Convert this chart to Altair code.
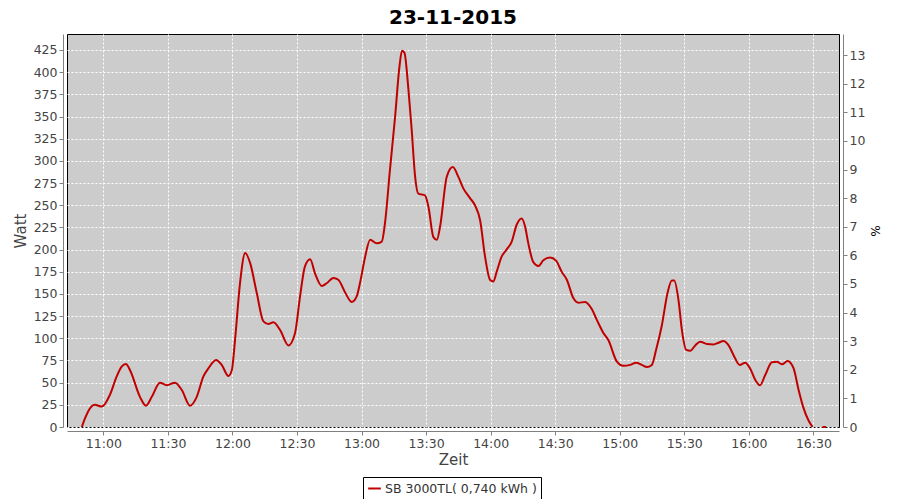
import altair as alt
import pandas as pd

title_text = "23-11-2015"
series_name = "SB 3000TL( 0,740 kWh )"
day = "2015-11-23"

times = [
    "10:50:00", "10:51:30", "10:54:36", "10:56:00", "10:59:18", "11:03:00", "11:06:12", "11:08:30",
    "11:10:30", "11:12:24", "11:17:00", "11:19:48", "11:22:30", "11:26:18", "11:29:30", "11:33:18",
    "11:36:24", "11:40:18", "11:43:24", "11:46:30", "11:48:48", "11:52:24", "11:55:00", "11:58:06",
    "11:59:42", "12:01:12", "12:03:30", "12:05:54", "12:08:12", "12:11:18", "12:14:24", "12:16:42",
    "12:19:00", "12:22:12", "12:26:00", "12:29:06", "12:31:24", "12:33:42", "12:36:06", "12:38:24",
    "12:41:30", "12:43:48", "12:46:54", "12:49:12", "12:52:18", "12:55:24", "12:57:42", "12:59:30",
    "13:01:30", "13:04:00", "13:07:00", "13:09:24", "13:10:54", "13:13:12", "13:15:36", "13:17:36",
    "13:18:48", "13:19:54", "13:21:48", "13:23:18", "13:24:54", "13:26:24", "13:29:30", "13:31:06",
    "13:33:24", "13:35:00", "13:36:30", "13:39:36", "13:42:24", "13:45:00", "13:47:18", "13:50:24",
    "13:52:42", "13:55:06", "13:57:24", "13:59:42", "14:01:12", "14:02:48", "14:05:06", "14:07:24",
    "14:09:48", "14:12:06", "14:14:24", "14:16:00", "14:17:30", "14:19:48", "14:22:12", "14:24:30",
    "14:27:36", "14:30:24", "14:33:00", "14:35:24", "14:38:30", "14:40:48", "14:43:54", "14:47:00",
    "14:49:18", "14:52:24", "14:54:42", "14:58:36", "15:01:42", "15:04:48", "15:07:36", "15:10:18",
    "15:12:36", "15:14:54", "15:16:54", "15:19:36", "15:22:12", "15:24:12", "15:25:18", "15:27:18",
    "15:28:54", "15:30:54", "15:32:48", "15:35:06", "15:37:24", "15:40:30", "15:43:36", "15:45:54",
    "15:48:12", "15:50:36", "15:52:54", "15:55:42", "15:58:18", "16:00:36", "16:03:00", "16:05:12",
    "16:07:36", "16:10:42", "16:13:00", "16:15:24", "16:18:00", "16:20:48", "16:23:06", "16:25:12",
    "16:27:48", "16:29:36",
]
watts = [
    0, 10, 23.5, 25, 23, 36, 57, 68,
    71, 64, 34, 24, 34, 50, 47, 50,
    42, 24, 34, 57, 66, 75.5, 70, 57.5,
    64, 98, 162, 196, 185, 151, 119, 116,
    118, 109, 92, 106, 147, 181, 189, 173,
    159, 162, 168, 166, 152, 141, 147, 165,
    190, 211, 207, 209, 230, 290, 350, 406,
    424, 422, 380, 335, 282, 263, 261, 248,
    214, 211, 226, 282, 293, 282, 269, 258,
    250, 233, 192, 166, 164, 175, 192, 200,
    209, 228, 235, 226, 207, 186, 181.5, 188,
    191, 187.5, 175, 166, 145, 140, 141, 133,
    121, 106, 98, 74, 69, 70, 72.5, 70,
    67.5, 70, 87, 115, 151, 165, 165, 143,
    109, 87, 86, 92, 96, 93.5, 93, 95,
    97, 92, 81, 70, 72.5, 66, 53, 47,
    58.6, 73, 73.6, 70.7, 74.4, 66, 42, 23,
    7, 0,
]
tail_times = ["16:34:12", "16:35:54"]
tail_watts = [0, 0]

watt_ticks = list(range(0, 426, 25))
pct_ticks = list(range(0, 14))
x_tick_hm = [(11, 0), (11, 30), (12, 0), (12, 30), (13, 0), (13, 30), (14, 0),
             (14, 30), (15, 0), (15, 30), (16, 0), (16, 30)]

df = pd.DataFrame({
    "time": [f"{day}T{t}" for t in times] + [f"{day}T{t}" for t in tail_times],
    "watt": watts + tail_watts,
    "seg": [0] * len(times) + [1] * len(tail_times),
    "series": series_name,
})
pct_df = pd.DataFrame({"pct": pct_ticks})


def dt(h, m, s=0):
    return alt.DateTime(year=2015, month=11, date=23, hours=h, minutes=m, seconds=s)


line = alt.Chart(df).mark_line(interpolate="monotone", strokeWidth=2).encode(
    x=alt.X(
        "time:T",
        scale=alt.Scale(domain=[dt(10, 43, 6), dt(16, 41, 54)]),
        axis=alt.Axis(
            title="Zeit", format="%H:%M", values=[dt(h, m) for h, m in x_tick_hm],
            offset=4, grid=True, titlePadding=3, labelFlush=False, labelOverlap=False,
        ),
    ),
    y=alt.Y(
        "watt:Q",
        scale=alt.Scale(domain=[0, 443], nice=False, zero=True),
        axis=alt.Axis(title="Watt", values=watt_ticks, offset=4, grid=True, titlePadding=5),
    ),
    color=alt.Color(
        "series:N",
        scale=alt.Scale(range=["#c00000"]),
        legend=alt.Legend(
            title=None, orient="none", legendX=296, legendY=443,
            strokeColor="black", fillColor="white", padding=4, cornerRadius=0,
            symbolType="stroke", symbolStrokeWidth=2, symbolSize=160,
            labelFontSize=12.5, labelFont="DejaVu Sans", labelColor="#333333",
            symbolOffset=0, labelOffset=3,
        ),
    ),
    detail="seg:N",
)

pct_layer = alt.Chart(pct_df).mark_point(opacity=0).encode(
    x=alt.value(0),
    y=alt.Y(
        "pct:Q",
        scale=alt.Scale(domain=[0, 13.74], nice=False, zero=True),
        axis=alt.Axis(
            title="%", orient="right", values=pct_ticks, offset=4, grid=False,
            titlePadding=3, titleFontSize=12, titleColor="#000000",
        ),
    ),
)

chart = alt.layer(line, pct_layer).resolve_scale(y="independent").properties(
    width=772,
    height=393,
    title=alt.TitleParams(
        text=title_text, fontSize=20, font="DejaVu Sans", fontWeight="bold",
        color="#000000", anchor="middle", offset=6,
    ),
    autosize=alt.AutoSizeParams(type="none"),
    padding={"left": 59, "top": 26, "right": 45, "bottom": 72},
).configure_view(
    fill="#cccccc", stroke="#000000", strokeWidth=1,
).configure_axis(
    domainColor="#808080", tickColor="#808080", tickSize=4, labelPadding=2,
    labelColor="#444444", labelFont="DejaVu Sans", labelFontSize=12.5,
    titleFont="DejaVu Sans", titleFontSize=15, titleFontWeight="normal", titleColor="#444444",
    gridColor="#ffffff", gridDash=[2, 2], gridWidth=1, gridOpacity=1,
).configure_legend(
    strokeColor="black",
)

chart.save("out.html", embed_options={"renderer": "svg", "actions": False})
